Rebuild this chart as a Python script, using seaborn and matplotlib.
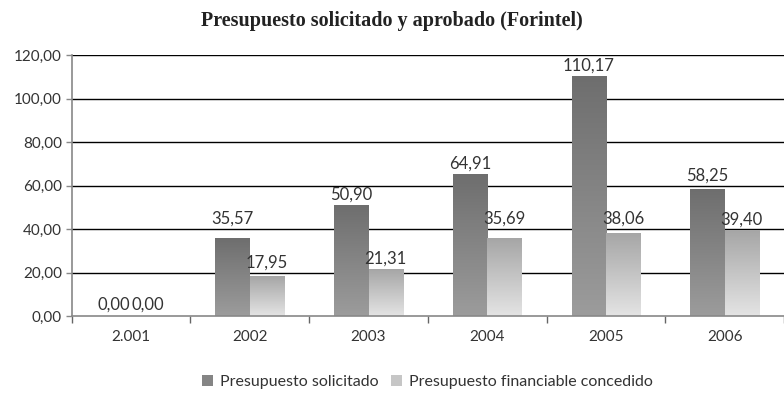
import numpy as np
import pandas as pd
import matplotlib
matplotlib.use("Agg")
import matplotlib.pyplot as plt
from matplotlib.colors import LinearSegmentedColormap
from matplotlib.patches import Patch
import seaborn as sns

# Budget figures per year (millions)
years = ["2.001", "2002", "2003", "2004", "2005", "2006"]
solicitado = [0.00, 35.57, 50.90, 64.91, 110.17, 58.25]
concedido = [0.00, 17.95, 21.31, 35.69, 38.06, 39.40]
series_names = ["Presupuesto solicitado", "Presupuesto financiable concedido"]
y_ticks = [0, 20, 40, 60, 80, 100, 120]

df = pd.DataFrame({
    "year": years * 2,
    "value": solicitado + concedido,
    "serie": [series_names[0]] * len(years) + [series_names[1]] * len(years),
})

# vertical gradients (bottom colour, top colour) per series
grad = {
    series_names[0]: ("#9c9c9c", "#6e6e6e"),
    series_names[1]: ("#e4e4e4", "#a6a6a6"),
}

sns.set_theme(style="white")
plt.rcParams["font.family"] = ["Lato", "DejaVu Sans"]

fig = plt.figure(figsize=(7.84, 4.0), dpi=100)
ax = fig.add_axes([0.0915, 0.21, 0.9085, 0.6525])

sns.barplot(data=df, x="year", y="value", hue="serie", order=years,
            hue_order=series_names, width=0.58, dodge=True, ax=ax,
            palette=[grad[s][1] for s in series_names], legend=False,
            saturation=1, edgecolor="none", linewidth=0)

ax.set_xlim(-0.5, len(years) - 0.5)
ax.set_ylim(0, 120)


def label_base(h, pad=1.4, text_h=5.8):
    """Bottom of a value label, lifted clear of any grid line it would cross."""
    b = h + pad
    for t in y_ticks[1:]:
        if b < t + 0.3 and b + text_h > t:
            b = t + 1.0
    return b


# replace flat fills with gradients and write the values on top
n = len(years)
bars = [p for p in ax.patches if p.get_width() > 0]
for i, p in enumerate(bars[: 2 * n]):
    serie = series_names[i // n]
    x0, w, h = p.get_x(), p.get_width(), p.get_height()
    vals = solicitado if i // n == 0 else concedido
    v = vals[i % n]
    ax.text(x0 + w / 2, label_base(h), f"{v:.2f}".replace(".", ","),
            ha="center", va="bottom", fontsize=12, color="#333333", zorder=5)
    p.set_visible(False)
    if h <= 0:
        continue
    cmap = LinearSegmentedColormap.from_list("g", list(grad[serie]))
    g = np.linspace(0, 1, 256).reshape(-1, 1)
    ax.imshow(g, extent=[x0, x0 + w, 0, h], origin="lower", cmap=cmap,
              aspect="auto", zorder=3, interpolation="bicubic")

ax.set_xlim(-0.5, len(years) - 0.5)
ax.set_ylim(0, 120)

# horizontal grid
for t in y_ticks[1:]:
    ax.axhline(t, color="black", lw=1.0, zorder=1)

ax.set_yticks(y_ticks)
ax.set_yticklabels([f"{t:.2f}".replace(".", ",") for t in y_ticks],
                   fontsize=11, color="#333333")
ax.tick_params(axis="y", length=4, width=1, color="#888888", left=True, pad=3)

# category boundaries as ticks, names at centres
ax.set_xticks(np.arange(-0.5, len(years) + 0.5, 1.0))
ax.set_xticklabels([])
ax.set_xticks(np.arange(len(years)), minor=True)
ax.set_xticklabels(years, minor=True, fontsize=11, color="#333333")
ax.tick_params(axis="x", which="major", length=5, width=1, color="#666666",
               bottom=True, direction="out")
ax.tick_params(axis="x", which="minor", length=0, pad=10)

ax.set_xlabel("")
ax.set_ylabel("")
for s in ["top", "right"]:
    ax.spines[s].set_visible(False)
for s in ["left", "bottom"]:
    ax.spines[s].set_color("#888888")
    ax.spines[s].set_linewidth(1.2)
    ax.spines[s].set_zorder(4)

fig.text(0.5, 0.948, "Presupuesto solicitado y aprobado (Forintel)",
         ha="center", va="center", fontsize=14.5, fontweight="bold",
         family="Liberation Serif", color="#222222")

handles = [Patch(facecolor="#858585", edgecolor="none"),
           Patch(facecolor="#c6c6c6", edgecolor="none")]
fig.legend(handles, series_names, loc="center", bbox_to_anchor=(0.545, 0.045),
           ncol=2, frameon=False, fontsize=11.5, handlelength=0.7,
           handleheight=0.7, handletextpad=0.4, columnspacing=0.8,
           labelcolor="#333333")

fig.savefig("out.png", dpi=100)
